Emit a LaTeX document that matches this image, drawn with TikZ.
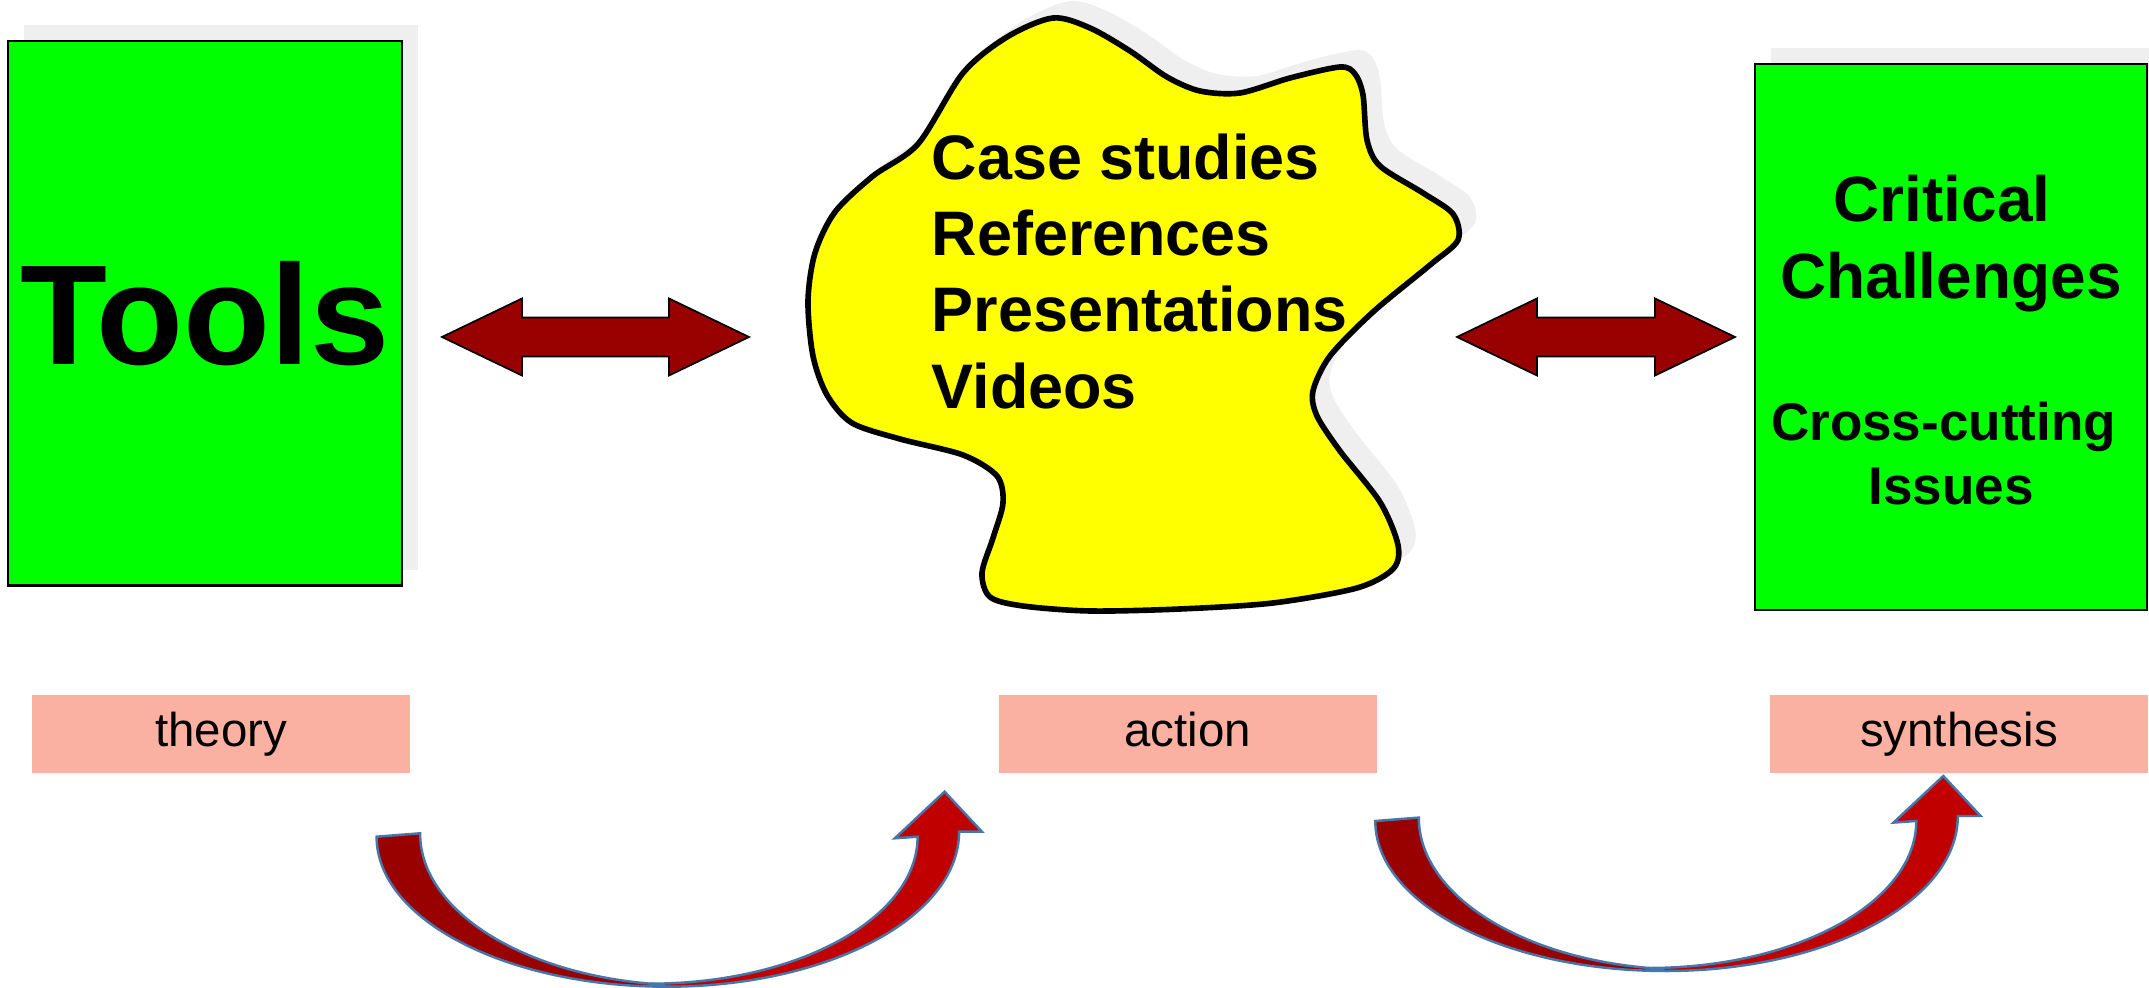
\documentclass[tikz,border=0pt]{standalone}
\usepackage{fontspec}
\setmainfont{Liberation Sans}
\usetikzlibrary{shadows}
\definecolor{boxgreen}{RGB}{0,255,0}
\definecolor{blobyellow}{RGB}{255,255,0}
\definecolor{arrowred}{RGB}{153,0,0}
\definecolor{bendred}{RGB}{192,0,0}
\definecolor{bendedge}{RGB}{70,118,170}
\definecolor{tagpink}{RGB}{250,177,162}
\definecolor{shadowgrey}{RGB}{239,239,239}
\tikzset{
  greenbox/.style={draw=black, line width=0.6pt, fill=boxgreen, inner sep=0pt,
    drop shadow={shadow xshift=0.16cm, shadow yshift=0.16cm, fill=shadowgrey, opacity=1}},
  tagbox/.style={fill=tagpink, minimum width=3.78cm, minimum height=0.777cm, inner sep=0pt,
    text height=0.75em, text depth=0pt, font=\fontsize{13.5}{16}\selectfont},
  blockarrow/.style={draw=black, line width=0.5pt, fill=arrowred},
  bendline/.style={draw=bendedge, line width=0.7pt},
  blobtext/.style={anchor=north west, align=left, inner sep=0pt, font=\fontsize{17.9}{21.7}\selectfont\bfseries},
}
\begin{document}
\begin{tikzpicture}
\useasboundingbox (0,0) rectangle (21.49,-9.88);
\def\twoway#1#2{(#1,-3.37) -- ++(0.8,0.385) -- ++(0,-0.19) -- ++(#2,0) -- ++(0,0.19) -- ++(0.8,-0.385) -- ++(-0.8,-0.385) -- ++(0,0.19) -- ++(-#2,0) -- ++(0,-0.19) -- cycle}
\def\bendback{(3.766,-8.367) arc[start angle=180, end angle=270, x radius=2.902cm, y radius=1.5cm] -- (6.90,-9.853) arc[start angle=270, end angle=180, x radius=2.699cm, y radius=1.52cm] -- cycle}
\def\bendfront{(6.668,-9.867) arc[start angle=270, end angle=360, x radius=2.923cm, y radius=1.55cm] -- (9.819,-8.317) -- (9.446,-7.917) -- (8.948,-8.383) -- (9.176,-8.367) arc[start angle=0, end angle=-90, x radius=2.676cm, y radius=1.47cm] -- cycle}
\def\blobpath{plot[smooth cycle, tension=0.5] coordinates {(10.53,-0.18) (10.07,-0.37) (9.63,-0.73) (9.18,-1.44) (8.73,-1.76) (8.35,-2.12) (8.15,-2.53) (8.08,-3.01) (8.13,-3.56) (8.27,-3.95) (8.52,-4.23) (9.00,-4.39) (9.63,-4.55) (9.97,-4.76) (10.03,-5.03) (9.93,-5.38) (9.82,-5.73) (9.90,-5.97) (10.23,-6.06) (10.90,-6.11) (11.80,-6.09) (12.73,-6.03) (13.57,-5.88) (13.93,-5.69) (13.98,-5.45) (13.80,-5.02) (13.40,-4.51) (13.17,-4.16) (13.13,-3.91) (13.30,-3.56) (13.73,-3.12) (14.30,-2.65) (14.58,-2.40) (14.53,-2.14) (14.23,-1.93) (13.80,-1.66) (13.67,-1.40) (13.63,-0.95) (13.55,-0.74) (13.40,-0.67) (12.90,-0.78) (12.40,-0.93) (12.00,-0.91) (11.67,-0.77) (11.30,-0.51) (10.90,-0.28)}}
% green boxes
\node[greenbox, minimum width=3.94cm, minimum height=5.445cm, font=\fontsize{40.5}{48}\selectfont\bfseries] (tools) at (2.05,-3.133) {Tools};
\node[greenbox, minimum width=3.92cm, minimum height=5.456cm] (challenges) at (19.51,-3.372) {};
\node[align=center, inner sep=0pt, font=\fontsize{18.2}{21.9}\selectfont\bfseries] (critical) at (19.51,-2.432) {Critical\kern.28em\\Challenges};
\node[align=center, inner sep=0pt, font=\fontsize{15.1}{18.2}\selectfont\bfseries] (crosscut) at (19.51,-4.54) {Cross-cutting\kern.28em\\Issues};
% yellow blob
\fill[shadowgrey, shift={(0.17,0.17)}] \blobpath;
\draw[line width=1.6pt, fill=blobyellow] \blobpath;
\node[blobtext] (media) at (9.31,-1.33) {Case studies\\References\\Presentations\\Videos};
% two-way arrows
\draw[blockarrow] \twoway{4.42}{1.47};
\draw[blockarrow] \twoway{14.57}{1.18};
% labels
\node[tagbox] (theory) at (2.21,-7.338) {theory};
\node[tagbox] (action) at (11.879,-7.338) {action};
\node[tagbox] (synthesis) at (19.59,-7.338) {synthesis};
% bent arrows
\draw[bendline, fill=arrowred] \bendback;
\draw[bendline, fill=bendred] \bendfront;
\draw[bendline, fill=arrowred, shift={(9.987,0.157)}] \bendback;
\draw[bendline, fill=bendred, shift={(9.987,0.157)}] \bendfront;
\end{tikzpicture}
\end{document}
